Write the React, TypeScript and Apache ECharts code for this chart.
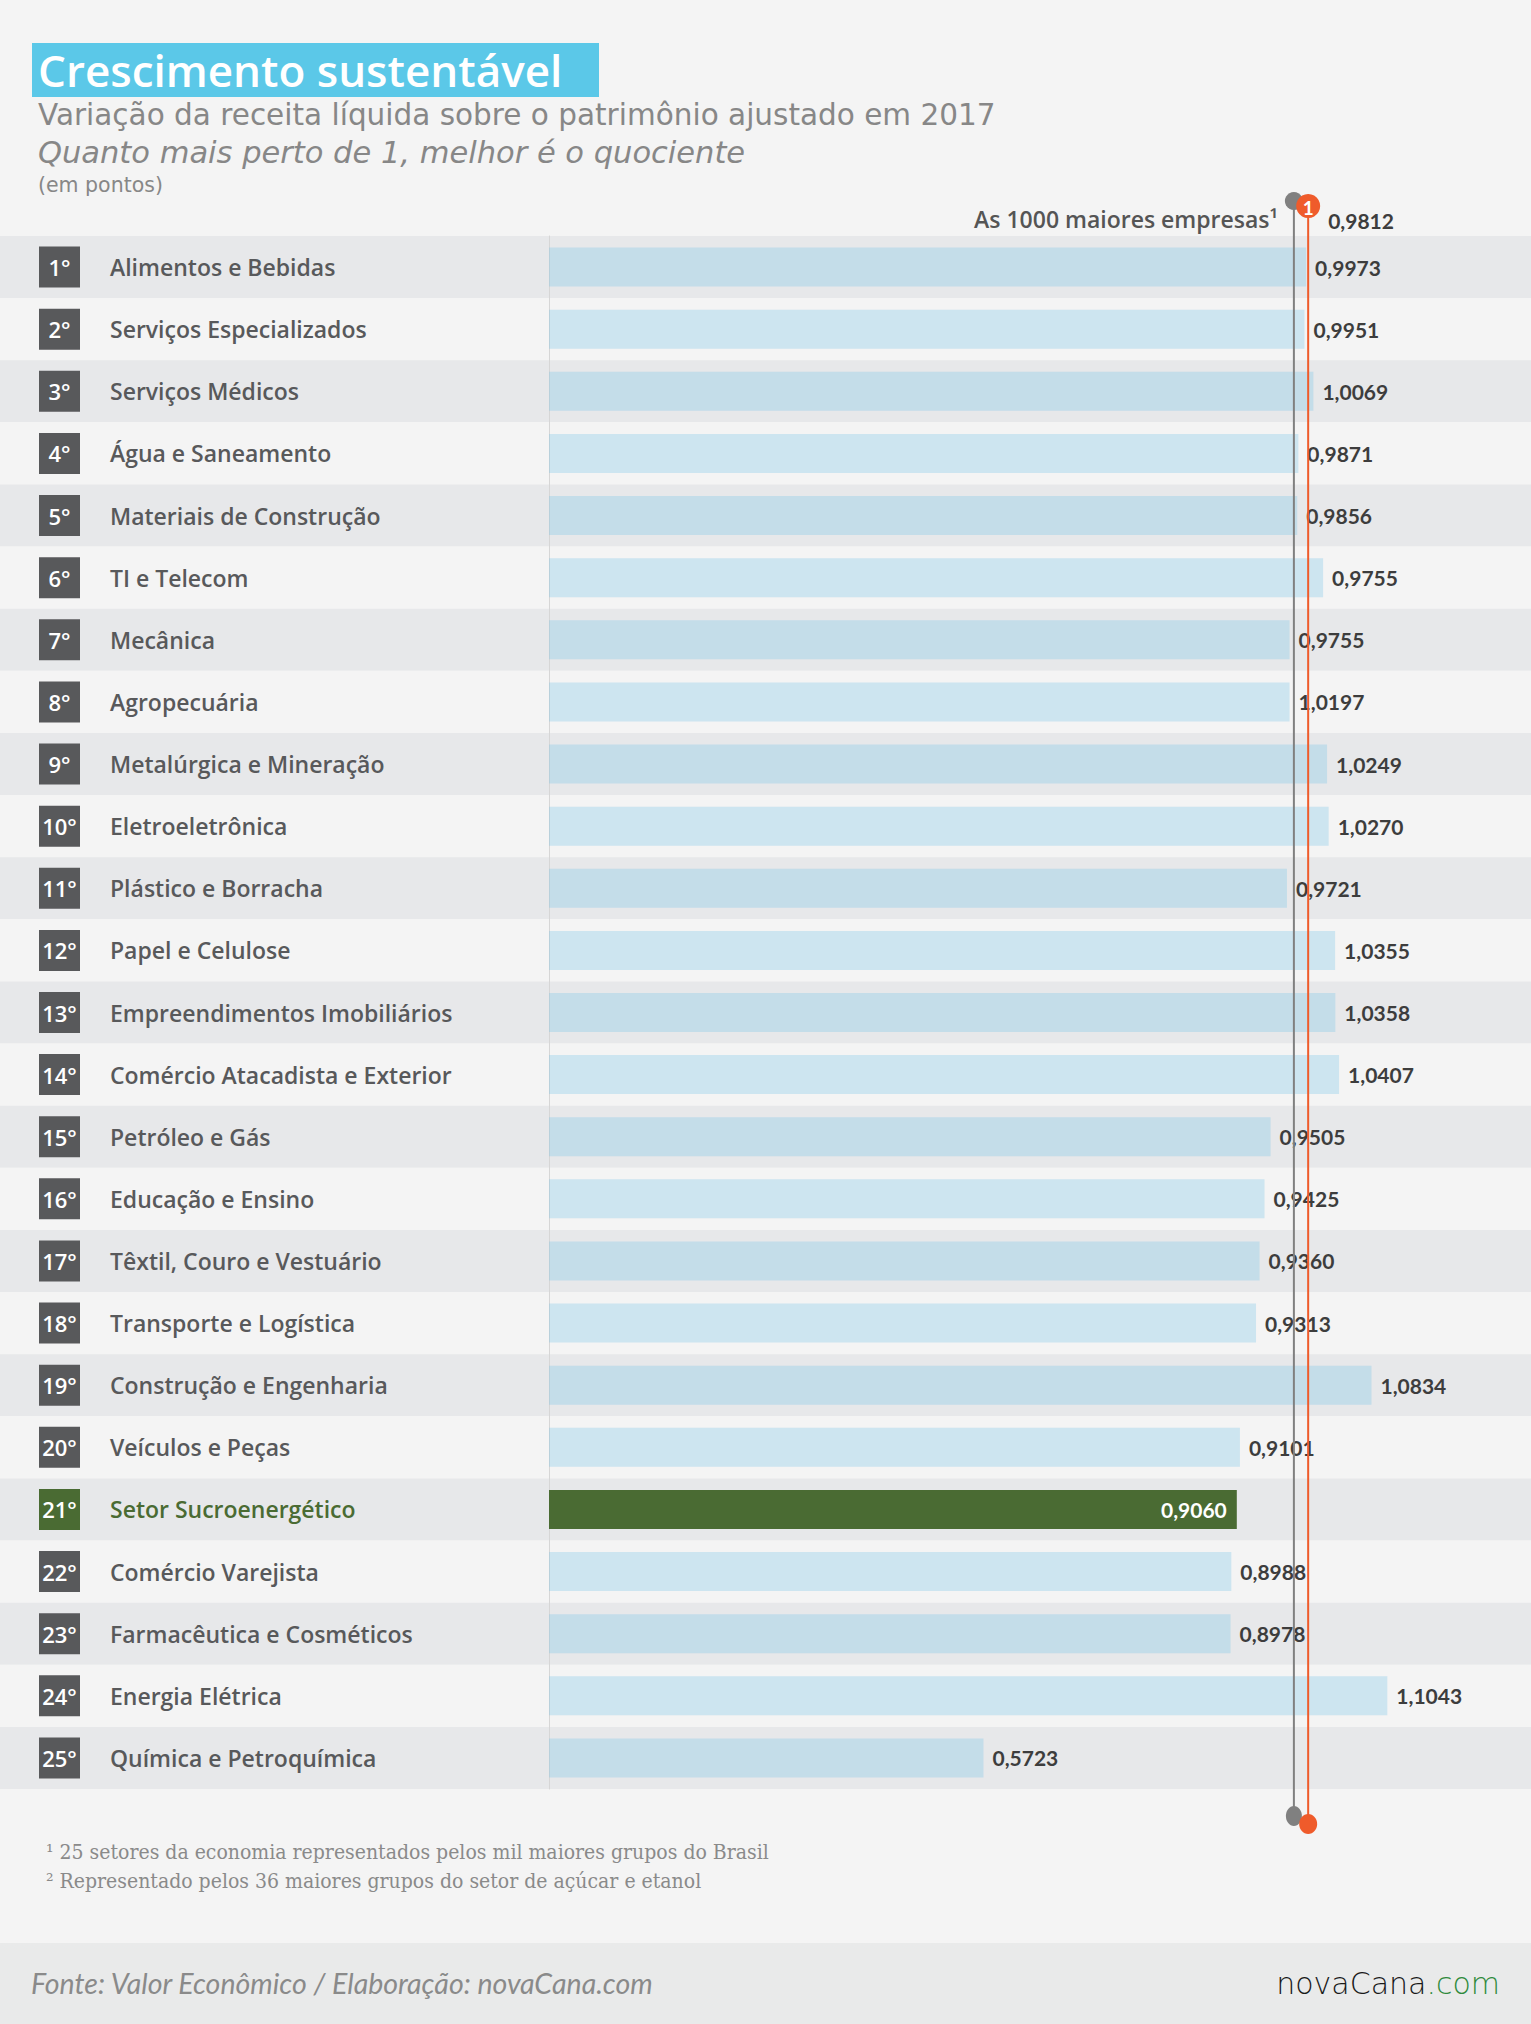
import React, { useEffect, useRef } from "react";
import * as echarts from "echarts";

const categories = [
  "Alimentos e Bebidas",
  "Serviços Especializados",
  "Serviços Médicos",
  "Água e Saneamento",
  "Materiais de Construção",
  "TI e Telecom",
  "Mecânica",
  "Agropecuária",
  "Metalúrgica e Mineração",
  "Eletroeletrônica",
  "Plástico e Borracha",
  "Papel e Celulose",
  "Empreendimentos Imobiliários",
  "Comércio Atacadista e Exterior",
  "Petróleo e Gás",
  "Educação e Ensino",
  "Têxtil, Couro e Vestuário",
  "Transporte e Logística",
  "Construção e Engenharia",
  "Veículos e Peças",
  "Setor Sucroenergético",
  "Comércio Varejista",
  "Farmacêutica e Cosméticos",
  "Energia Elétrica",
  "Química e Petroquímica",
];

const ranks = [
  "1°", "2°", "3°", "4°", "5°", "6°", "7°", "8°", "9°", "10°",
  "11°", "12°", "13°", "14°", "15°", "16°", "17°", "18°", "19°", "20°",
  "21°", "22°", "23°", "24°", "25°",
];

// bar lengths as drawn in the reference
const barValues = [
  0.9973, 0.9951, 1.0069, 0.9871, 0.9856, 1.0197, 0.9755, 0.9755, 1.0249, 1.027,
  0.9721, 1.0355, 1.0358, 1.0407, 0.9505, 0.9425, 0.936, 0.9313, 1.0834, 0.9101,
  0.906, 0.8988, 0.8978, 1.1043, 0.5723,
];

// value labels as printed in the reference
const valueLabels = [
  "0,9973", "0,9951", "1,0069", "0,9871", "0,9856", "0,9755", "0,9755", "1,0197", "1,0249", "1,0270",
  "0,9721", "1,0355", "1,0358", "1,0407", "0,9505", "0,9425", "0,9360", "0,9313", "1,0834", "0,9101",
  "0,9060", "0,8988", "0,8978", "1,1043", "0,5723",
];

const highlightIndex = 20;
const refTop1000 = 0.9812;
const refTop1000Label = "0,9812";
const refOne = 1;

const W = 1531;
const H = 2024;
const ROWS_TOP = 236;
const ROWS_H = 1553;
const AXIS_LEFT = 549;
const AXIS_W = 911;
const X_MAX = 1.2;

const DARK = "#58595b";
const GREEN = "#4a6b33";
const ORANGE = "#ef5b2b";
const GRAYLINE = "#808080";
const SANS = "'Open Sans'";
const WIDE = "'DejaVu Sans'";

export default function App() {
  const ref = useRef<HTMLDivElement>(null);

  useEffect(() => {
    document.body.style.margin = "0";
    document.body.style.background = "#f4f4f4";
    if (!ref.current) return;
    const chart = echarts.init(ref.current, undefined, { renderer: "svg" });

    const rankStyle = (bg: string) => ({
      backgroundColor: bg,
      color: "#ffffff",
      width: 41,
      height: 41,
      lineHeight: 41,
      align: "center",
      fontFamily: "Open Sans",
      fontWeight: 600,
      fontSize: 22,
    });
    const nameStyle = (c: string) => ({
      color: c,
      fontFamily: "Open Sans",
      fontWeight: 600,
      fontSize: 23,
      padding: [0, 0, 0, 30],
    });

    const base: any = {
      animation: false,
      backgroundColor: "#f4f4f4",
      grid: [
        { left: 0, right: 0, top: ROWS_TOP, height: ROWS_H, containLabel: false },
        { left: AXIS_LEFT, width: AXIS_W, top: ROWS_TOP, height: ROWS_H, containLabel: false },
      ],
      xAxis: [
        { gridIndex: 0, type: "value", min: 0, max: 1, show: false },
        {
          gridIndex: 1,
          type: "value",
          min: 0,
          max: X_MAX,
          axisLine: { show: false },
          axisTick: { show: false },
          axisLabel: { show: false },
          splitLine: { show: false },
        },
      ],
      yAxis: [
        {
          gridIndex: 0,
          type: "category",
          data: categories,
          inverse: true,
          axisLine: { show: false },
          axisTick: { show: false },
          axisLabel: { show: false },
          splitLine: { show: false },
          splitArea: { show: true, areaStyle: { color: ["#e7e8ea", "#f4f4f4"] } },
        },
        {
          gridIndex: 1,
          type: "category",
          data: categories,
          inverse: true,
          axisLine: { show: true, lineStyle: { color: "#d6d6d6", width: 1 } },
          axisTick: { show: false },
          splitLine: { show: false },
          axisLabel: {
            show: true,
            align: "left",
            margin: AXIS_LEFT - 39,
            formatter: (v: string, i: number) =>
              i === highlightIndex
                ? `{rankG|${ranks[i]}}{nameG|${v}}`
                : `{rank|${ranks[i]}}{name|${v}}`,
            rich: {
              rank: rankStyle(DARK),
              rankG: rankStyle(GREEN),
              name: nameStyle(DARK),
              nameG: nameStyle(GREEN),
            },
          },
        },
      ],
      series: [
        {
          type: "bar",
          xAxisIndex: 1,
          yAxisIndex: 1,
          barWidth: 39,
          z: 2,
          data: barValues.map((v, i) => ({
            value: v,
            itemStyle: { color: i === highlightIndex ? GREEN : "rgba(118,196,234,0.31)" },
            label:
              i === highlightIndex
                ? { position: "insideRight", color: "#ffffff", distance: 10 }
                : {},
          })),
          label: {
            show: true,
            position: "right",
            distance: 9,
            color: "#3d3d3d",
            fontFamily: "Lato",
            fontWeight: "bold",
            fontSize: 21,
            formatter: (p: any) => valueLabels[p.dataIndex],
          },
        },
      ],
    };

    chart.setOption(base);

    const xGray = chart.convertToPixel({ xAxisIndex: 1 }, refTop1000) as number;
    const xOne = chart.convertToPixel({ xAxisIndex: 1 }, refOne) as number;

    const graphic: any[] = [
      // title
      { type: "rect", z: 20, shape: { x: 32, y: 43, width: 567, height: 54 }, style: { fill: "#5bc8e8" } },
      {
        type: "text", z: 21, x: 38, y: 70,
        style: { text: "Crescimento sustentável", fill: "#ffffff", font: `600 44px ${SANS}`, lineHeight: 44, textVerticalAlign: "middle" },
      },
      {
        type: "text", z: 21, x: 38, y: 114.5,
        style: { text: "Variação da receita líquida sobre o patrimônio ajustado em 2017", fill: "#878787", font: `29.5px ${WIDE}`, lineHeight: 30, textVerticalAlign: "middle" },
      },
      {
        type: "text", z: 21, x: 38, y: 152,
        style: { text: "Quanto mais perto de 1, melhor é o quociente", fill: "#878787", font: `italic 30.5px ${WIDE}`, lineHeight: 31, textVerticalAlign: "middle" },
      },
      {
        type: "text", z: 21, x: 38, y: 184.5,
        style: { text: "(em pontos)", fill: "#878787", font: `20.5px ${WIDE}`, lineHeight: 21, textVerticalAlign: "middle" },
      },
      // reference labels
      {
        type: "text", z: 21, x: xGray - 16, y: 219,
        style: { text: "As 1000 maiores empresas¹", fill: "#555555", font: `600 23px ${SANS}`, lineHeight: 24, textAlign: "right", textVerticalAlign: "middle" },
      },
      {
        type: "text", z: 21, x: xOne + 20, y: 220,
        style: { text: refTop1000Label, fill: "#3d3d3d", font: "bold 21px Lato", textAlign: "left", textVerticalAlign: "middle" },
      },
      // gray reference line
      { type: "line", z: 30, shape: { x1: xGray, y1: 201, x2: xGray, y2: 1816 }, style: { stroke: GRAYLINE, lineWidth: 2 } },
      { type: "circle", z: 30, shape: { cx: xGray, cy: 201, r: 9 }, style: { fill: GRAYLINE } },
      { type: "ellipse", z: 30, shape: { cx: xGray, cy: 1816, rx: 8, ry: 10 }, style: { fill: GRAYLINE } },
      // orange reference line
      { type: "line", z: 31, shape: { x1: xOne, y1: 206, x2: xOne, y2: 1824 }, style: { stroke: ORANGE, lineWidth: 2 } },
      { type: "circle", z: 31, shape: { cx: xOne, cy: 206, r: 12 }, style: { fill: ORANGE } },
      {
        type: "text", z: 32, x: xOne, y: 207,
        style: { text: "1", fill: "#ffffff", font: "bold 19px Lato", textAlign: "center", textVerticalAlign: "middle" },
      },
      { type: "ellipse", z: 31, shape: { cx: xOne, cy: 1824, rx: 9, ry: 10 }, style: { fill: ORANGE } },
      // footnotes
      {
        type: "text", z: 21, x: 46, y: 1852,
        style: { text: "¹ 25 setores da economia representados pelos mil maiores grupos do Brasil", fill: "#8a8a8a", font: "21px 'DejaVu Serif Condensed', 'DejaVu Serif'", lineHeight: 22, textVerticalAlign: "middle" },
      },
      {
        type: "text", z: 21, x: 46, y: 1881,
        style: { text: "² Representado pelos 36 maiores grupos do setor de açúcar e etanol", fill: "#8a8a8a", font: "21px 'DejaVu Serif Condensed', 'DejaVu Serif'", lineHeight: 22, textVerticalAlign: "middle" },
      },
      // footer
      { type: "rect", z: 1, shape: { x: 0, y: 1943, width: W, height: H - 1943 }, style: { fill: "#e9eaea" } },
      {
        type: "text", z: 21, x: 31, y: 1983,
        style: { text: "Fonte: Valor Econômico / Elaboração: novaCana.com", fill: "#8a8a8a", font: "italic 28.5px Lato", textVerticalAlign: "middle" },
      },
      {
        type: "text", z: 21, x: 1500, y: 1983,
        style: {
          text: "{a|novaCana}{b|.com}",
          textAlign: "right",
          textVerticalAlign: "middle",
          rich: {
            a: { fontFamily: "DejaVu Sans", fontSize: 30, fontWeight: 300, color: "#1a1a1a", fill: "#1a1a1a" },
            b: { fontFamily: "DejaVu Sans", fontSize: 30, fontWeight: 300, color: "#2f8a3c", fill: "#2f8a3c" },
          },
        },
      },
    ];

    chart.setOption({ graphic });

    return () => chart.dispose();
  }, []);

  return <div ref={ref} style={{ width: W, height: H }} />;
}
